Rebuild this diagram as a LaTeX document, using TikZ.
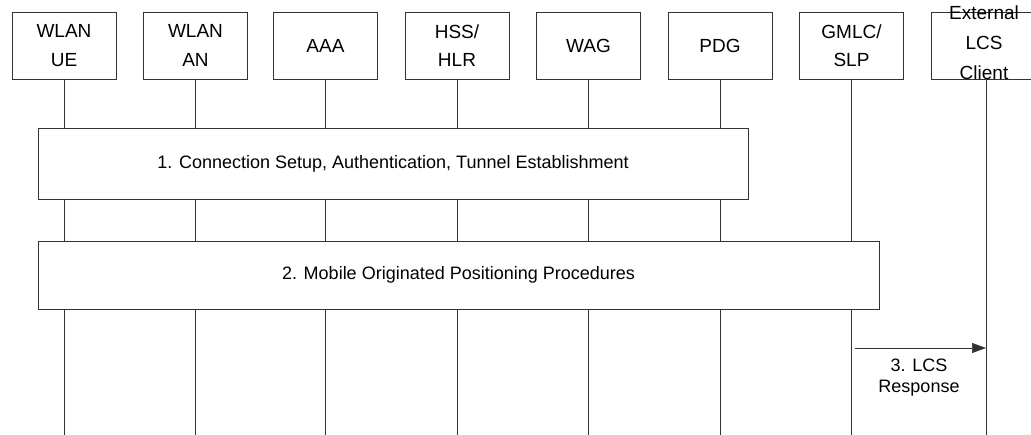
\documentclass[tikz,border=0pt]{standalone}
\usepackage{fontspec}
\setmainfont{Liberation Sans}
\usetikzlibrary{arrows.meta}
\begin{document}
\begin{tikzpicture}[x=1pt,y=-1pt,
  ln/.style={draw=black!80, line width=0.7pt},
  ent/.style={ln, fill=white, minimum width=104pt, minimum height=67pt, inner sep=0pt, align=center, font=\fontsize{19}{28.5}\selectfont},
  enttext/.style={inner sep=0pt, align=center, font=\fontsize{19}{30}\selectfont},
  proc/.style={ln, fill=white, inner sep=0pt, font=\fontsize{18}{22}\selectfont},
  life/.style={ln},
  msg/.style={ln, -{Triangle[length=14pt,width=10pt]}},
  lbl/.style={align=center, font=\fontsize{18}{21}\selectfont}]
\useasboundingbox (0,0) rectangle (1031,435);
\clip (0,0) rectangle (1031,435);
\node[ent] (ue)   at (64,45.5)  {WLAN\\UE};
\node[ent] (an)   at (195.5,45.5) {WLAN\\AN};
\node[ent] (aaa)  at (325.5,45.5) {AAA};
\node[ent] (hss)  at (457,45.5) {HSS/\\HLR};
\node[ent] (wag)  at (588.5,45.5) {WAG};
\node[ent] (pdg)  at (720,45.5) {PDG};
\node[ent] (gmlc) at (851.5,45.5) {GMLC/\\SLP};
\node[ent, minimum width=110pt] (ext) at (986,45.5) {};
\node[enttext] (extt) at (984,43) {External\\LCS\\Client};
\foreach \n in {ue,an,aaa,hss,wag,pdg,gmlc,ext}
  \coordinate (\n-end) at (\n.south |- 0,435);
\foreach \n in {ue,an,aaa,hss,wag,pdg,gmlc,ext}
  \draw[life] (\n.south) -- (\n-end);
\node[proc, minimum width=710pt, minimum height=71pt] (p1) at (393,163.5) {1. Connection Setup, Authentication, Tunnel Establishment};
\node[proc, minimum width=841pt, minimum height=68pt] (p2) at (458.5,275) {2. Mobile Originated Positioning Procedures};
\coordinate (a1) at (gmlc.south |- 0,348);
\coordinate (a2) at (ext.south |- 0,348);
\draw[msg] ([xshift=3pt]a1) -- (a2);
\node[lbl, anchor=north] (l3) at (919,355) {3. LCS\\Response};
\end{tikzpicture}
\end{document}
